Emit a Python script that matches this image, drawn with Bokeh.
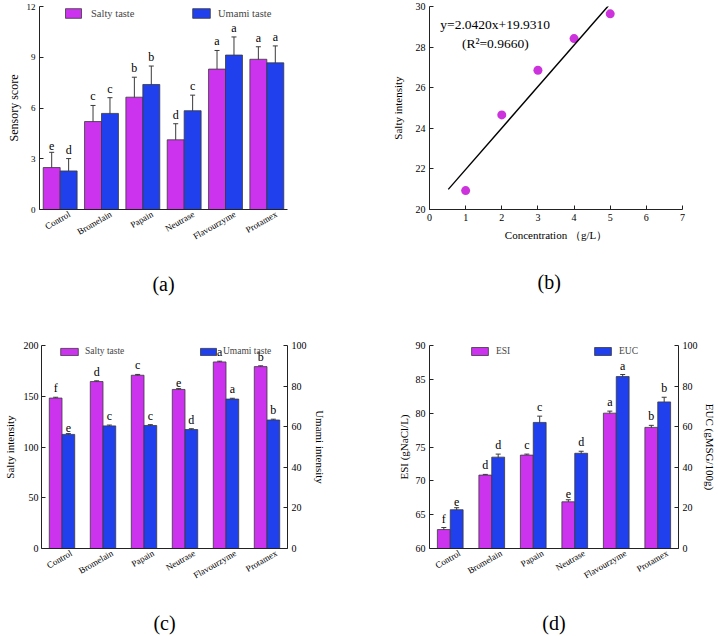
import math
from bokeh.plotting import figure
from bokeh.models import (ColumnDataSource, Range1d, LinearAxis, FixedTicker,
                          Whisker, TeeHead, Legend, LegendItem, Label, Title)
from bokeh.transform import dodge
from bokeh.layouts import row, column
from bokeh.embed import file_html
from bokeh.resources import INLINE
from bokeh.core.properties import value

FONT = "Liberation Serif"
SALTY = "#CC33EE"
UMAMI = "#2040EE"
EDGE = "#3a3a3a"
AXIS = "#222222"

enzymes = ["Control", "Bromelain", "Papain", "Neutrase", "Flavourzyme", "Protamex"]

# (a) sensory scores
a_salty = [2.48, 5.2, 6.64, 4.12, 8.3, 8.88]
a_salty_err = [0.9, 0.95, 1.18, 0.95, 1.1, 0.74]
a_salty_sig = ["e", "c", "b", "d", "a", "a"]
a_umami = [2.28, 5.68, 7.39, 5.84, 9.13, 8.67]
a_umami_err = [0.73, 0.93, 1.09, 0.92, 1.07, 1.0]
a_umami_sig = ["d", "c", "b", "c", "a", "a"]
a_yticks = [0, 3, 6, 9, 12]

# (b) standard curve
b_conc = [1, 2, 3, 4, 5]
b_salty = [20.93, 24.66, 26.86, 28.42, 29.64]
b_slope = 2.0420
b_intercept = 19.9310
b_r2 = 0.9660
b_fit_x = [0.52, 4.95]
b_xticks = [0, 1, 2, 3, 4, 5, 6, 7]
b_yticks = [20, 22, 24, 26, 28, 30]

# (c) electronic tongue intensities
c_salty = [148.2, 164.5, 170.7, 156.7, 183.8, 179.2]
c_salty_err = [0.8, 0.7, 0.8, 0.8, 0.7, 0.8]
c_salty_sig = ["f", "d", "c", "e", "a", "b"]
c_umami = [56.2, 60.4, 60.6, 58.6, 73.6, 63.3]
c_umami_err = [0.4, 0.4, 0.4, 0.4, 0.4, 0.4]
c_umami_sig = ["e", "c", "c", "d", "a", "b"]
c_lticks = [0, 50, 100, 150, 200]
c_rticks = [0, 20, 40, 60, 80, 100]

# (d) ESI / EUC
d_esi = [62.8, 70.85, 73.8, 66.9, 80.0, 77.9]
d_esi_err = [0.3, 0.1, 0.15, 0.3, 0.3, 0.3]
d_esi_sig = ["f", "d", "c", "e", "a", "b"]
d_euc = [19.1, 45.0, 62.1, 46.9, 84.7, 72.2]
d_euc_err = [1.0, 1.5, 3.1, 1.0, 1.0, 2.3]
d_euc_sig = ["e", "d", "c", "d", "a", "b"]
d_lticks = [60, 65, 70, 75, 80, 85, 90]
d_rticks = [0, 20, 40, 60, 80, 100]

# category slot centres on a 0..N axis
cat_pos = [i + 0.5 for i in range(len(enzymes))]
N = len(enzymes)


def style_axis(ax, tick_size, label_size, tick_in=4):
    ax.major_label_text_font = FONT
    ax.major_label_text_font_size = tick_size
    ax.major_label_text_color = "black"
    ax.axis_label_text_font = FONT
    ax.axis_label_text_font_size = label_size
    ax.axis_label_text_font_style = "normal"
    ax.axis_label_text_color = "black"
    ax.axis_line_color = AXIS
    ax.axis_line_width = 1
    ax.major_tick_line_color = AXIS
    ax.major_tick_in = tick_in
    ax.major_tick_out = 0
    ax.minor_tick_line_color = None
    ax.major_label_standoff = 4


def base_fig(width, height, left, right, top, bottom, **kw):
    p = figure(width=width, height=height, min_border_left=left, min_border_right=right,
               min_border_top=top, min_border_bottom=bottom, output_backend="svg",
               toolbar_location=None, outline_line_color=None, background_fill_color="white",
               border_fill_color="white", **kw)
    p.xgrid.visible = False
    p.ygrid.visible = False
    return p


def style_cat_axis(p, label_offset, panel_name, name_standoff):
    ticks = [c + label_offset for c in cat_pos]
    ax = p.xaxis[0]
    ax.ticker = FixedTicker(ticks=ticks)
    ax.major_label_overrides = {t: n for t, n in zip(ticks, enzymes)}
    ax.major_label_orientation = math.radians(30)
    style_axis(ax, "9px", "20px")
    ax.major_tick_line_color = None
    ax.major_label_standoff = 4
    ax.axis_label = panel_name
    ax.axis_label_standoff = name_standoff
    return ax


def bar_series(p, src, col, x_off, width, color, y_range_name="default", bottom=0, head=6):
    xs = dodge("pos", x_off)
    r = p.vbar(x=xs, top=col, bottom=bottom, width=width, source=src, fill_color=color,
               line_color=EDGE, line_width=0.8, y_range_name=y_range_name)
    w = Whisker(source=src, base=xs, upper=col + "_up", lower=col + "_lo", line_color=EDGE,
                line_width=1, upper_head=TeeHead(size=head, line_color=EDGE, line_width=1),
                lower_head=TeeHead(size=head, line_color=EDGE, line_width=1),
                y_range_name=y_range_name)
    p.add_layout(w)
    p.text(x=xs, y=col + "_up", text=col + "_sig", source=src, text_align="center",
           text_baseline="bottom", text_font=value(FONT), text_font_size="12px",
           text_color="black", y_offset=-2, y_range_name=y_range_name)
    return r


def add_legend(p, renderer, label, loc, gw, gh, size, standoff):
    lg = Legend(items=[LegendItem(label=label, renderers=[renderer])], location=loc,
                orientation="horizontal", glyph_width=gw, glyph_height=gh,
                label_text_font=FONT, label_text_font_size=size, label_standoff=standoff,
                label_height=gh, label_width=10, padding=0, margin=0, spacing=0,
                border_line_color=None, background_fill_alpha=0)
    p.add_layout(lg, "center")


def make_source(cols):
    data = {"enzyme": enzymes, "pos": cat_pos}
    for name, (vals, errs, sigs) in cols.items():
        data[name] = vals
        data[name + "_up"] = [v + e for v, e in zip(vals, errs)]
        data[name + "_lo"] = [v - e for v, e in zip(vals, errs)]
        data[name + "_sig"] = sigs
    return ColumnDataSource(data)


# ---------------- (a) ----------------
pa = base_fig(358, 318, 39, 71, 5, 105, x_range=Range1d(0, N), y_range=Range1d(0, 12))
src_a = make_source({"salty": (a_salty, a_salty_err, a_salty_sig),
                     "umami": (a_umami, a_umami_err, a_umami_sig)})
ra1 = bar_series(pa, src_a, "salty", -0.205, 0.41, SALTY, head=5)
ra2 = bar_series(pa, src_a, "umami", 0.205, 0.41, UMAMI, head=5)
pa.yaxis.ticker = FixedTicker(ticks=a_yticks)
style_axis(pa.yaxis[0], "9px", "12px")
pa.yaxis.axis_label = "Sensory score"
pa.yaxis.axis_label_standoff = 3
style_cat_axis(pa, 0.23, "(a)", 24)
add_legend(pa, ra1, "Salty taste", (24, 190), 20, 12, "10.5px", 8)
add_legend(pa, ra2, "Umami taste", (151, 190), 22, 12, "10.5px", 6)

# ---------------- (b) ----------------
pb = base_fig(360, 318, 71, 36, 6, 107, x_range=Range1d(0, 7), y_range=Range1d(20, 30))
pb.scatter(b_conc, b_salty, size=9, fill_color="#CC33DD", line_color=None)
fit_y = [b_slope * x + b_intercept for x in b_fit_x]
pb.line(b_fit_x, fit_y, line_color="black", line_width=1.4)
pb.xaxis.ticker = FixedTicker(ticks=b_xticks)
pb.yaxis.ticker = FixedTicker(ticks=b_yticks)
style_axis(pb.xaxis[0], "10px", "11px")
style_axis(pb.yaxis[0], "10px", "11px")
pb.xaxis.axis_label = "Concentration （g/L）"
pb.yaxis.axis_label = "Salty intensity"
pb.xaxis.axis_label_standoff = 5
pb.yaxis.axis_label_standoff = 9
pb.add_layout(Label(x=0.3, y=29.1, text=f"y={b_slope:.4f}x+{b_intercept:.4f}",
                    text_font=FONT, text_font_size="13.5px", text_baseline="middle",
                    text_color="black"))
pb.add_layout(Label(x=1.82, y=28.2, text=f"(R²={b_r2:.4f})", text_font=FONT,
                    text_font_size="13.5px", text_baseline="middle", text_align="center",
                    text_color="black"))
pb.add_layout(Title(text="(b)", align="left", offset=108, standoff=51, text_font=FONT,
                    text_font_size="20px", text_font_style="normal", text_color="black"),
              "below")

# ---------------- (c) ----------------
pc = base_fig(358, 318, 36, 71, 27, 87, x_range=Range1d(0, N), y_range=Range1d(0, 200))
pc.extra_y_ranges["r"] = Range1d(0, 100)
src_c = make_source({"salty": (c_salty, c_salty_err, c_salty_sig),
                     "umami": (c_umami, c_umami_err, c_umami_sig)})
rc1 = bar_series(pc, src_c, "salty", -0.155, 0.31, SALTY, head=5)
rc2 = bar_series(pc, src_c, "umami", 0.155, 0.31, UMAMI, y_range_name="r", head=5)
pc.yaxis.ticker = FixedTicker(ticks=c_lticks)
style_axis(pc.yaxis[0], "10px", "11px")
pc.yaxis.axis_label = "Salty intensity"
pc.yaxis.axis_label_standoff = 5
pc.yaxis.major_label_standoff = 3
rax_c = LinearAxis(y_range_name="r", ticker=FixedTicker(ticks=c_rticks), axis_label="Umami intensity")
style_axis(rax_c, "10px", "11px")
rax_c.axis_label_standoff = 4
pc.add_layout(rax_c, "right")
style_cat_axis(pc, 0.23, "(c)", 24)
add_legend(pc, rc1, "Salty taste", (17, 192), 22, 9, "9.5px", 5)
add_legend(pc, rc2, "Umami taste", (157, 192), 20, 9, "9.5px", 5)

# ---------------- (d) ----------------
pd_ = base_fig(360, 318, 71, 35, 27, 87, x_range=Range1d(0, N), y_range=Range1d(60, 90))
pd_.extra_y_ranges["r"] = Range1d(0, 100)
src_d = make_source({"esi": (d_esi, d_esi_err, d_esi_sig),
                     "euc": (d_euc, d_euc_err, d_euc_sig)})
rd1 = bar_series(pd_, src_d, "esi", -0.155, 0.31, SALTY, bottom=d_lticks[0], head=5)
rd2 = bar_series(pd_, src_d, "euc", 0.155, 0.31, UMAMI, y_range_name="r", head=5)
pd_.yaxis.ticker = FixedTicker(ticks=d_lticks)
style_axis(pd_.yaxis[0], "10px", "11px")
pd_.yaxis.axis_label = "ESI (gNaCl/L)"
pd_.yaxis.axis_label_standoff = 3
rax_d = LinearAxis(y_range_name="r", ticker=FixedTicker(ticks=d_rticks), axis_label="EUC (gMSG/100g)")
style_axis(rax_d, "10px", "11px")
rax_d.axis_label_standoff = 3
pd_.add_layout(rax_d, "right")
style_cat_axis(pd_, 0.23, "(d)", 24)
add_legend(pd_, rd1, "ESI", (40, 192), 21, 10, "9.5px", 6)
add_legend(pd_, rd2, "EUC", (163, 192), 21, 10, "9.5px", 6)

layout = column(row(pa, pb), row(pc, pd_))
open("out.html", "w").write(file_html(layout, INLINE))
